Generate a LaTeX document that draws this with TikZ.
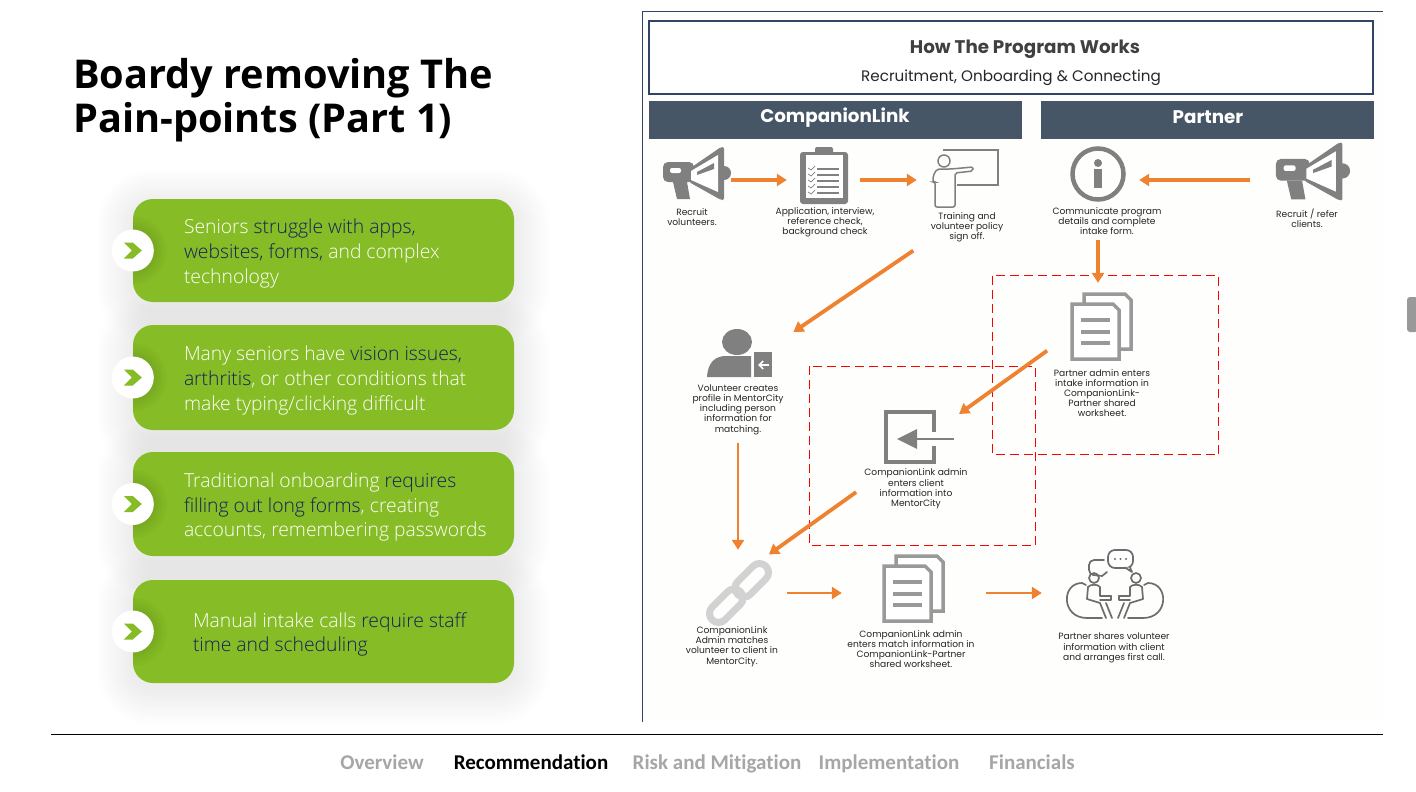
\documentclass[tikz,border=0pt]{standalone}
\usepackage{fontspec}
\usetikzlibrary{positioning,arrows.meta,calc}
\setmainfont{Open Sans}
\newfontfamily\lightfont{Open Sans Light}
\newfontfamily\posterfont{Poppins}
\newfontfamily\navfont[Ligatures=NoCommon]{Carlito}

\definecolor{leaf}{HTML}{86BC25}
\definecolor{navytext}{HTML}{14205C}
\definecolor{slatebar}{HTML}{475666}
\definecolor{framenavy}{HTML}{2F4467}
\definecolor{floworange}{HTML}{EE8230}
\definecolor{icongrey}{HTML}{808080}
\definecolor{docgrey}{HTML}{999999}
\definecolor{chaingrey}{HTML}{D2D2D2}
\definecolor{navgrey}{HTML}{A6A6A6}
\definecolor{panelwhite}{HTML}{FEFEFC}

\newcommand{\hl}[1]{\textcolor{navytext}{#1}}

\tikzset{
    greenbox/.style={fill=leaf, rounded corners=20pt, minimum width=381pt, inner sep=0pt},
    bullet/.style={circle, fill=white, minimum size=42pt, inner sep=0pt},
    boxtext/.style={text=white, align=left, inner sep=0pt, anchor=west, yshift=-3pt,
        font=\lightfont\fontsize{19.3}{24.6}\selectfont},
    bartitle/.style={fill=slatebar, minimum height=38pt, inner sep=0pt},
    headfont/.style={inner sep=0pt, font=\posterfont\bfseries\fontsize{18.3}{20}\selectfont},
    iconbox/.style={inner sep=0pt, minimum height=50pt},
    steptext/.style={align=center, inner sep=0pt, text=black!85,
        font=\posterfont\fontsize{9.1}{10.2}\selectfont},
    flow/.style={draw=floworange, line width=3.8pt, -{Triangle[length=10pt,width=12pt]}},
    thinflow/.style={flow, line width=2.7pt},
    redzone/.style={draw=red, line width=0.9pt, dash pattern=on 9pt off 5pt},
    navitem/.style={inner sep=0pt, anchor=base, text=navgrey, font=\navfont\bfseries\fontsize{21}{24}\selectfont},
    % icons
    chevron/.pic={\fill[leaf] (-9,-8) -- (0,-8) -- (9,0) -- (0,8) -- (-9,8) -- (-1,0) -- cycle;},
    megaphone/.pic={
        \fill[icongrey] (27,-1) circle (7);
        \fill[icongrey, rounded corners=5pt] (-34,-12) rectangle (-3,8);
        \fill[icongrey, rounded corners=2pt] (-8,-5) -- (24,-27) -- (27,-27) -- (27,26) -- (24,26) -- (-8,8) -- cycle;
        \fill[white] (-6,-3) -- (21,-19) -- (21,18) -- (-6,6) -- cycle;
        \fill[icongrey] (0,-2) -- (17,-11) -- (17,-5) -- (0,1) -- cycle;
        \fill[white, rounded corners=2pt] (-27,-6) rectangle (-16,-1);
        \fill[icongrey] (-24,8) -- (-10,8) -- (-7,25) -- (-20,25) -- cycle;
    },
    clipboard/.pic={
        \fill[icongrey, rounded corners=3pt] (-24,-23) rectangle (24,29);
        \fill[icongrey, rounded corners=2pt] (-9,-28) rectangle (9,-21);
        \fill[white] (-18,-20) rectangle (19,23);
        \foreach \y in {-6,0,6,12,18} {
            \draw[icongrey, line width=1.7pt] (-7,\y) -- (15,\y);
            \draw[icongrey, line width=0.7pt] (-16,\y-1) -- (-13,\y+1) -- (-9,\y-3);
        }
    },
    trainer/.pic={
        \draw[icongrey, line width=1.5pt] (-22,-28) -- (33,-28) -- (33,7) -- (-8,7);
        \draw[icongrey, line width=1.5pt] (-21,-17) circle (6);
        \draw[icongrey, line width=1.5pt, rounded corners=2pt] (-32,-2) -- (-28,-9) -- (-14,-9)
            -- (8,-11) -- (8,-7) -- (-10,-5) -- (-10,29) -- (-30,29) -- (-30,4) -- (-32,4) -- cycle;
    },
    infoicon/.pic={
        \draw[icongrey, line width=4.5pt] (0,0) circle (25.5);
        \fill[icongrey] (0,-11) circle (4);
        \fill[icongrey] (-4,-5) rectangle (4,14);
    },
    docstack/.pic={
        \fill[white, draw=docgrey, line width=3.5pt] (-17,-32) -- (24,-32) -- (30,-26) -- (30,23) -- (-17,23) -- cycle;
        \fill[white, draw=docgrey, line width=3.5pt] (-29,-22) -- (12,-22) -- (18,-16) -- (18,33) -- (-29,33) -- cycle;
        \foreach \y in {-6,6,17} {\draw[docgrey, line width=3.5pt] (-20,\y) -- (9,\y);}
    },
    enterbox/.pic={
        \draw[icongrey, line width=4pt] (15,-5) -- (15,-25) -- (-33,-25) -- (-33,25) -- (15,25) -- (15,9);
        \draw[icongrey, line width=2.5pt] (-3,2) -- (35,2);
        \fill[icongrey] (-22,2) -- (-2,-8) -- (-2,12) -- cycle;
    },
    personicon/.pic={
        \fill[icongrey] (-3,-11) ellipse (15 and 13);
        \fill[icongrey] (-33,24) .. controls (-32,8) and (-24,4) .. (-16,3) -- (11,3) -- (11,24) -- cycle;
        \fill[icongrey] (14,-1) rectangle (32,24);
        \draw[white, line width=1.7pt, -{Straight Barb[length=4pt,width=8pt]}] (29,12) -- (18,12);
    },
    chainicon/.pic={
        \draw[chaingrey, line width=7pt, rounded corners=9pt, rotate=45]
            (-38,-9) rectangle (2,9);
        \draw[chaingrey, line width=7pt, rounded corners=9pt, rotate=45]
            (-2,-9) rectangle (38,9);
    },
    talkicon/.pic={
        \begin{scope}[icongrey!85!black, line width=1.7pt, line join=round, line cap=round]
            \foreach \s in {1,-1} {
                \begin{scope}[xscale=\s]
                    \draw (-13,32) -- (-28,32) .. controls (-54,32) and (-54,-3) .. (-33,-3) -- (-29,-1);
                    \draw (-21,-8) circle (5);
                    \draw (-27,1) .. controls (-25,-2) and (-17,-2) .. (-15,1) -- (-15,10) -- (-4,10);
                    \draw (-27,1) -- (-28,13) -- (-15,17) -- (-9,32);
                    \draw (-4,10) -- (-4,14) -- (-15,14);
                    \draw (-9,17) -- (-3,32);
                \end{scope}
            }
            \draw[rounded corners=5pt] (-11,-26) -- (-26,-26) -- (-26,-11) -- (-22,-11);
            \draw (-22,-11) -- (-13,-10) -- (-8,-14);
            \draw[fill=white, rounded corners=7pt] (-7,-36) rectangle (18,-18);
            \draw[fill=white] (10,-18.5) -- (17,-14) -- (15,-18.5);
            \foreach \x in {0,5.5,11} {\fill (\x,-27) circle (1.1);}
        \end{scope}
    },
}

\begin{document}
\begin{tikzpicture}[x=1pt, y=-1pt]
\useasboundingbox (0,0) rectangle (1416,792);
\fill[white] (0,0) rectangle (1416,792);

% Title
\node[anchor=north west, align=left, inner sep=0pt, font=\bfseries\fontsize{39.7}{44}\selectfont] (title) at (73,58)
    {Boardy removing The\\Pain-points (Part 1)};

% Soft shadows
\foreach \top/\bot in {199/302,325/430,452/556,580/683} {
    \foreach \g in {36,34,...,2} {
        \fill[black, opacity=0.004, rounded corners={(20+\g)*1pt}] ({133-\g},{\top-\g+6}) rectangle ({514+\g},{\bot+\g+6});
    }
}

% Green boxes
\node[greenbox, minimum height=103pt] (boxa) at (323.5,250.5) {};
\node[greenbox, minimum height=105pt] (boxb) at (323.5,377.5) {};
\node[greenbox, minimum height=104pt] (boxc) at (323.5,504) {};
\node[greenbox, minimum height=103pt] (boxd) at (323.5,631.5) {};

\node[boxtext, right=51pt of boxa.west] (texta)
    {Seniors \hl{struggle with apps,}\\\hl{websites, forms,} and complex\\technology};
\node[boxtext, right=51pt of boxb.west] (textb)
    {Many seniors have \hl{vision issues,}\\\hl{arthritis}, or other conditions that\\make typing/clicking difficult};
\node[boxtext, right=51pt of boxc.west] (textc)
    {Traditional onboarding \hl{requires}\\\hl{filling out long forms}, creating\\accounts, remembering passwords};
\node[boxtext, right=60pt of boxd.west] (textd)
    {Manual intake calls \hl{require staff}\\\hl{time and scheduling}};

% Bullets
\foreach \card/\spot in {boxa/dota,boxb/dotb,boxc/dotc,boxd/dotd} {
    \begin{scope}
        \clip ([yshift=-40pt]\card.west) rectangle ([xshift=40pt,yshift=40pt]\card.west);
        \foreach \g in {34,31,...,22} {
            \fill[black, opacity=0.018] (\card.west) circle (\g);
        }
    \end{scope}
    \node[bullet] (\spot) at (\card.west) {};
    \pic at (\spot) {chevron};
}

% Panel on the right
\fill[panelwhite] (642,12) rectangle (1383,722);
\draw[framenavy, line width=0.8pt] (642,722) -- (642,11.5) -- (1383,11.5);
\node[draw=framenavy, line width=1.5pt, fill=white, minimum width=724pt, minimum height=73pt, inner sep=0pt] (header) at (1011,57.5) {};
\node[headfont, text=black!75] (headline) at (1025,49) {How The Program Works};
\node[text=black!85, inner sep=0pt, font=\posterfont\fontsize{15.2}{17}\selectfont] (subline) at (1011,78) {Recruitment, Onboarding \& Connecting};
\node[bartitle, minimum width=373pt] (barleft) at (835.5,120) {};
\node[bartitle, minimum width=333pt] (barright) at (1207.5,120) {};
\node[headfont, text=white] (barlefttext) at (835,118) {CompanionLink};
\node[headfont, text=white] (barrighttext) at (1208,117) {Partner};

% Red zones
\draw[redzone] (992.5,275.5) rectangle (1218.5,454.5);
\draw[redzone] (809,366) rectangle (1035.5,545);

% Icon places
\node[iconbox, minimum width=67pt] (recruit) at (697,180) {};
\node[iconbox, minimum width=48pt] (appl) at (824,180) {};
\node[iconbox, minimum width=66pt] (training) at (965,180) {};
\node[iconbox, minimum width=58pt] (info) at (1098,180) {};
\node[iconbox, minimum width=73pt] (refer) at (1313,180) {};
\node[iconbox, minimum width=62pt, minimum height=68pt] (partnerdoc) at (1101,326) {};
\node[iconbox, minimum width=65pt] (volunteer) at (740,353) {};
\node[iconbox, minimum width=70pt, minimum height=52pt] (admin) at (919,437) {};
\node[iconbox, minimum width=65pt, minimum height=58pt] (link) at (739,593) {};
\node[iconbox, minimum width=60pt] (matchdoc) at (913,593) {};
\node[iconbox, minimum width=96pt] (talk) at (1115,593) {};

% Icons
\pic at (697,174) {megaphone};
\pic at (824,175) {clipboard};
\pic at (965,178) {trainer};
\pic at (1098,174) {infoicon};
\pic[scale=1.09] at (1313,172) {megaphone};
\pic at (1101,326) {docstack};
\pic at (919,437) {enterbox};
\pic at (740,353) {personicon};
\pic at (739,593) {chainicon};
\pic at (913,588) {docstack};
\pic at (1115,586) {talkicon};

% Step texts
\node[steptext] (recruittext) at (692,217) {Recruit\\volunteers.};
\node[steptext] (appltext) at (825,222) {Application, interview,\\reference check,\\background check};
\node[steptext] (trainingtext) at (967,227) {Training and\\volunteer policy\\sign off.};
\node[steptext] (infotext) at (1107,221) {Communicate program\\details and complete\\intake form.};
\node[steptext] (refertext) at (1307,218) {Recruit / refer\\clients.};
\node[steptext] (partnertext) at (1102,393) {Partner admin enters\\intake information in\\CompanionLink-\\Partner shared\\worksheet.};
\node[steptext] (volunteertext) at (738,409.5) {Volunteer creates\\profile in MentorCity\\including person\\information for\\matching.};
\node[steptext] (admintext) at (916,489) {CompanionLink admin\\enters client\\information into\\MentorCity};
\node[steptext] (linktext) at (732,646.5) {CompanionLink\\Admin matches\\volunteer to client in\\MentorCity.};
\node[steptext] (matchtext) at (911,649) {CompanionLink admin\\enters match information in\\CompanionLink-Partner\\shared worksheet.};
\node[steptext] (sharetext) at (1114,648) {Partner shares volunteer\\information with client\\and arranges first call.};

% Arrows
\draw[flow, shorten >=13pt] (recruit) -- (appl);
\draw[flow, shorten <=12pt, shorten >=15pt] (appl) -- (training);
\draw[flow, shorten <=26pt, shorten >=12pt] (refer) -- (info);
\draw[flow, shorten <=5pt, shorten >=9pt] (infotext.south -| info) -- (info |- partnerdoc.north);
\draw[flow, shorten <=21pt, shorten >=25pt] (trainingtext.198) -- (volunteer.12);
\draw[flow, shorten <=28pt, shorten >=6pt] (partnerdoc.195) -- (admin.29);
\draw[flow, shorten <=10pt, shorten >=16pt] (admintext.177) -- (link.60);
\draw[thinflow, shorten <=8pt, shorten >=14pt] (volunteertext.south) -- (volunteertext.south |- link.north);
\draw[thinflow, shorten <=15pt, shorten >=41pt] (link) -- (matchdoc);
\draw[thinflow, shorten <=43pt, shorten >=25pt] (matchdoc) -- (talk);

% Scroll handle
\fill[docgrey, rounded corners=3pt] (1407,297) rectangle (1418,332);

% Footer
\coordinate (ruleleft) at (51,734.5);
\coordinate (ruleright) at (1383,734.5);
\draw[black, line width=1pt] (ruleleft) -- (ruleright);
\node[navitem] (navoverview) at (382,769) {Overview};
\node[navitem, text=black] (navrecommend) at (531,769) {Recommendation};
\node[navitem] (navrisk) at (717,769) {Risk and Mitigation};
\node[navitem] (navimpl) at (889,769) {Implementation};
\node[navitem] (navfin) at (1032,769) {Financials};

\end{tikzpicture}
\end{document}
